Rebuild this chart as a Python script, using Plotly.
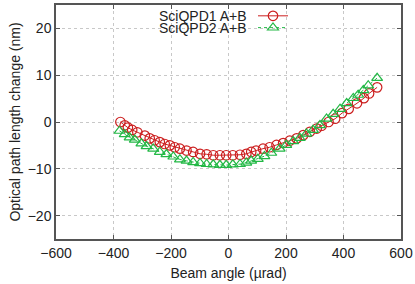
import plotly.graph_objects as go

# Beam angle (µrad) and optical path length change (nm)
x_qpd1 = [-376, -361, -350, -335, -317, -291, -274, -257, -239, -222, -204, -187,
          -169, -146, -123, -99, -76, -53, -30, -8, 15, 40, 62, 79, 96, 120, 143,
          167, 190, 213, 237, 260, 283, 307, 324, 348, 371, 395, 418, 447, 471,
          489, 517]
y_qpd1 = [0.0, -0.7, -1.2, -1.7, -2.2, -2.9, -3.5, -3.9, -4.3, -4.7, -5.0, -5.4,
          -5.7, -6.1, -6.4, -6.8, -6.9, -7.1, -7.1, -7.1, -7.1, -7.0, -6.8, -6.4,
          -6.1, -5.7, -5.4, -4.9, -4.5, -4.0, -3.5, -2.8, -2.1, -1.4, -0.8, 0.0,
          0.7, 1.9, 2.8, 4.0, 5.1, 6.1, 7.4]

x_qpd2 = [-379, -361, -344, -326, -303, -285, -262, -239, -216, -192, -169, -146,
          -123, -99, -76, -53, -30, -8, 15, 40, 62, 79, 102, 125, 149, 178, 201,
          225, 248, 271, 294, 318, 341, 364, 388, 411, 434, 451, 469, 486, 517]
y_qpd2 = [-1.9, -2.6, -3.3, -3.8, -4.6, -5.2, -5.7, -6.4, -6.9, -7.4, -8.0, -8.3,
          -8.6, -8.8, -9.0, -9.1, -9.2, -9.2, -9.1, -9.0, -8.7, -8.3, -7.9, -7.3,
          -6.6, -5.7, -4.9, -4.1, -3.4, -2.5, -1.7, -0.7, 0.7, 1.7, 2.8, 4.0, 5.1,
          5.8, 6.8, 7.8, 9.4]

series_names = ["SciQPD1 A+B", "SciQPD2 A+B"]
x_ticks = [-600, -400, -200, 0, 200, 400, 600]
y_ticks = [-20, -10, 0, 10, 20]

red = "#cc1f1f"
green = "#22b845"
FONT = "Liberation Sans, Arial, sans-serif"

fig = go.Figure()
fig.add_trace(go.Scatter(
    x=x_qpd1, y=y_qpd1, mode="lines+markers", name=" ",
    line=dict(color=red, width=1),
    marker=dict(symbol="circle-open", size=9.5, color=red, line=dict(width=1.2)),
    legend="legend"))
fig.add_trace(go.Scatter(
    x=x_qpd2, y=y_qpd2, mode="lines+markers", name=" ",
    line=dict(color=green, width=1, dash="dot"),
    marker=dict(symbol="triangle-up-open", size=9.5, color=green, line=dict(width=1.2)),
    legend="legend2"))

axis_common = dict(
    showline=True, linecolor="#555", linewidth=1.5, mirror="allticks",
    ticks="inside", ticklen=4, tickcolor="#555",
    showgrid=True, gridcolor="#c8c8c8", griddash="dot", gridwidth=1,
    zeroline=False, tickfont=dict(family=FONT, size=14, color="#222"),
)

fig.update_layout(
    width=415, height=284,
    margin=dict(l=56, r=14, t=1, b=45),
    paper_bgcolor="white", plot_bgcolor="white",
    font=dict(family=FONT, size=14, color="#222"),
    xaxis=dict(range=[-600, 600], tickvals=x_ticks,
               ticktext=[f"{v:d}".replace("-", "\u2212") for v in x_ticks],
               title=dict(text="Beam angle (µrad)", font=dict(family=FONT, size=14), standoff=9),
               **axis_common),
    yaxis=dict(range=[-25, 25], tickvals=y_ticks,
               ticktext=[f"{v:d}".replace("-", "\u2212") for v in y_ticks],
               title=dict(text="Optical path length change (nm)", font=dict(family=FONT, size=14), standoff=4),
               **axis_common),
    legend=dict(x=(253 - 56) / 345, xanchor="left", y=(239 - 12) / 238, yanchor="middle",
                bgcolor="rgba(0,0,0,0)", font=dict(size=8), borderwidth=0),
    legend2=dict(x=(253 - 56) / 345, xanchor="left", y=(239 - 24) / 238, yanchor="middle",
                 bgcolor="rgba(0,0,0,0)", font=dict(size=8), borderwidth=0),
    showlegend=True,
)

for i, name in enumerate(series_names):
    fig.add_annotation(
        text=name, xref="paper", yref="paper",
        x=(249 - 56) / 345, xanchor="right",
        y=(239 - (12 + 12 * i)) / 238, yanchor="middle",
        showarrow=False, font=dict(family=FONT, size=14, color="#222"))

fig.write_html("out.html", config={"displayModeBar": False},
               post_script="document.body.style.margin='0';")
